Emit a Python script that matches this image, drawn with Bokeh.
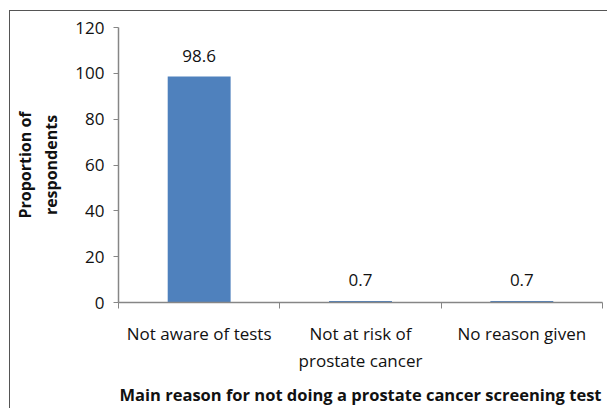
from bokeh.plotting import figure
from bokeh.models import Range1d, FixedTicker, ColumnDataSource
from bokeh.core.properties import value
from bokeh.embed import file_html
from bokeh.resources import INLINE

categories = ["Not aware of tests", "Not at risk of\nprostate cancer", "No reason given"]
values = [98.6, 0.7, 0.7]
value_labels = ["98.6", "0.7", "0.7"]
y_ticks = [0, 20, 40, 60, 80, 100, 120]

FONT = "Open Sans"
BLUE = "#4F81BD"
AXIS = "#868686"
TXT = "#111111"

xpos = [i + 0.5 for i in range(len(categories))]
src = ColumnDataSource(dict(x=xpos, top=values, lab=value_labels))

p = figure(width=598, height=398, output_backend="svg", toolbar_location=None,
           x_range=Range1d(0, len(categories)), y_range=Range1d(0, 120),
           min_border_left=103, min_border_top=16, min_border_right=6, min_border_bottom=90)
p.margin = (10, 0, 0, 9)
p.styles = {"border-top": "1px solid #555555", "border-left": "1px solid #555555"}
p.outline_line_color = None
p.xgrid.visible = False
p.ygrid.visible = False
p.background_fill_color = "white"
p.border_fill_color = "white"

p.vbar(x="x", top="top", width=0.39, bottom=0, source=src, fill_color=BLUE, line_color=None)
p.text(x="x", y="top", text="lab", source=src, text_align="center", text_baseline="middle",
       y_offset=-21, text_font=value(FONT), text_font_size="17px", text_color=TXT)

# x axis
xa = p.xaxis[0]
xa.ticker = FixedTicker(ticks=xpos, minor_ticks=list(range(len(categories) + 1)))
xa.major_label_overrides = {x: c for x, c in zip(xpos, categories)}
xa.major_tick_line_color = None
xa.major_tick_out = 0
xa.major_tick_in = 0
xa.minor_tick_line_color = AXIS
xa.minor_tick_out = 6
xa.minor_tick_in = 0
xa.axis_line_color = AXIS
xa.axis_line_width = 1.5
xa.major_label_standoff = 13
xa.major_label_text_font = FONT
xa.major_label_text_font_size = "17px"
xa.major_label_text_color = TXT
xa.axis_label = "Main reason for not doing a prostate cancer screening test"
xa.axis_label_text_font = FONT
xa.axis_label_text_font_size = "16.5px"
xa.axis_label_text_font_style = "bold"
xa.axis_label_text_color = TXT
xa.axis_label_standoff = 8

# y axis
ya = p.yaxis[0]
ya.ticker = FixedTicker(ticks=y_ticks, minor_ticks=[])
ya.axis_line_color = AXIS
ya.axis_line_width = 1.5
ya.major_tick_line_color = AXIS
ya.major_tick_out = 5
ya.major_tick_in = 0
ya.minor_tick_line_color = None
ya.major_label_standoff = 9
ya.major_label_text_font = FONT
ya.major_label_text_font_size = "17px"
ya.major_label_text_color = TXT
ya.axis_label = "Proportion of\nrespondents"
ya.axis_label_text_font = FONT
ya.axis_label_text_font_size = "16px"
ya.axis_label_text_font_style = "bold"
ya.axis_label_text_color = TXT
ya.axis_label_standoff = 10

open("out.html", "w").write(file_html(p, INLINE))
